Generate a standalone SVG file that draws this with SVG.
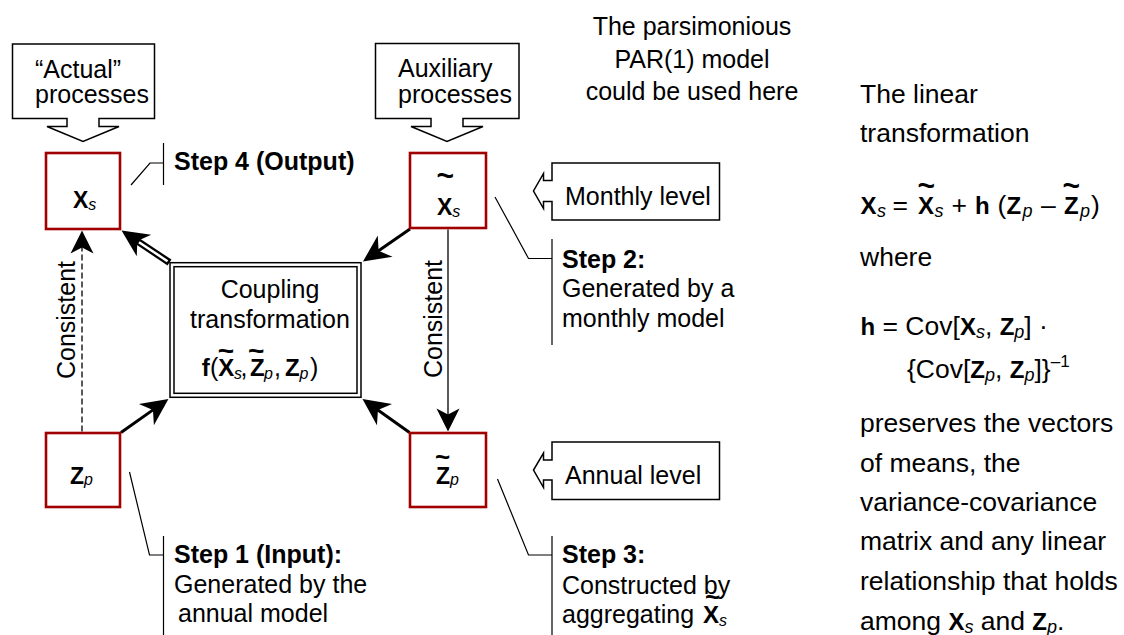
<svg xmlns="http://www.w3.org/2000/svg" width="1124" height="635" viewBox="0 0 1124 635">
  <defs>
    <style>
      text { font-family: "Liberation Sans", Arial, sans-serif; fill: #000; }
      .t { font-size: 25px; }
      .r { font-size: 26.5px; }
      .b { font-weight: bold; }
      .mb { font-weight: bold; font-size: 24px; }
      .nb { font-weight: bold; font-size: 23px; }
      .sub { font-style: italic; font-size: 18px; font-weight: normal; }
      .nsub { font-style: italic; font-size: 16px; font-weight: normal; }
      .sup { font-size: 17px; }
      .tl { text-anchor: middle; font-weight: bold; }
      .mid { text-anchor: middle; }
      .box { fill: #fff; stroke: #a00000; stroke-width: 2.6; }
      .frame { fill: #fff; stroke: #000; stroke-width: 1.5; }
      .frame2 { fill: none; stroke: #000; stroke-width: 1.5; }
      .call { fill: #fff; stroke: #000; stroke-width: 1.5; stroke-linejoin: miter; }
      .lead { fill: none; stroke: #000; stroke-width: 1.2; }
      .thick { stroke: #000; stroke-width: 3; fill: none; }
      .thin { stroke: #000; stroke-width: 1.3; fill: none; }
      .dash { stroke-dasharray: 6 3; }
      .dbl-out { stroke: #000; stroke-width: 7; fill: none; }
      .dbl-in { stroke: #fff; stroke-width: 2.5; fill: none; }
    </style>
    <marker id="headThick" viewBox="-13 -14 29 28" markerWidth="29" markerHeight="28" refX="0" refY="0" orient="auto" markerUnits="userSpaceOnUse">
      <path d="M15,0 L-12,-13 L-4,0 L-12,13 Z" fill="#000"/>
    </marker>
    <marker id="headThin" viewBox="-12 -12 25 24" markerWidth="25" markerHeight="24" refX="0" refY="0" orient="auto" markerUnits="userSpaceOnUse">
      <path d="M12,0 L-11,-11.5 L-5,0 L-11,11.5 Z" fill="#000"/>
    </marker>
  </defs>

  <rect x="0" y="0" width="1124" height="635" fill="#fff"/>

  <!-- callout boxes with block pointers -->
  <g id="actual-processes">
    <polygon class="call" points="12.5,44 154.5,44 154.5,118.5 99,118.5 99,126.5 119,126.5 83,141.5 47,126.5 67,126.5 67,118.5 12.5,118.5"/>
    <text class="t" x="35" y="78">“Actual”</text>
    <text class="t" x="35" y="103">processes</text>
  </g>
  <g id="auxiliary-processes">
    <polygon class="call" points="375.5,43.5 519,43.5 519,118.5 463,118.5 463,126.5 483,126.5 447,141.5 411,126.5 431,126.5 431,118.5 375.5,118.5"/>
    <text class="t" x="398" y="77">Auxiliary</text>
    <text class="t" x="398" y="103">processes</text>
  </g>
  <g id="monthly-level">
    <polygon class="call" points="552,163 719.5,163 719.5,220 552,220 552,201.5 543.5,201.5 543.5,208.5 533.5,191 543.5,173.5 543.5,180.5 552,180.5"/>
    <text class="t" x="565" y="205">Monthly level</text>
  </g>
  <g id="annual-level">
    <polygon class="call" points="552,442 719.5,442 719.5,499.5 552,499.5 552,480 543.5,480 543.5,487.5 533.5,470 543.5,453 543.5,460 552,460"/>
    <text class="t" x="565" y="483.5">Annual level</text>
  </g>

  <!-- connectors -->
  <g id="connectors">
    <line class="thick" x1="410" y1="229" x2="375.3" y2="253" marker-end="url(#headThick)"/>
    <line class="thick" x1="121" y1="432.5" x2="156.2" y2="407.6" marker-end="url(#headThick)"/>
    <line class="thick" x1="409.5" y1="432.5" x2="374.7" y2="407.7" marker-end="url(#headThick)"/>
    <line class="dbl-out" x1="169.5" y1="262.5" x2="134" y2="238.8" marker-end="url(#headThick)"/>
    <line class="dbl-in" x1="167.5" y1="261.2" x2="139" y2="242.2"/>
    <line class="thin" x1="448" y1="229.5" x2="448" y2="419.5" marker-end="url(#headThin)"/>
    <line class="thin dash" x1="82" y1="431.5" x2="82" y2="242.5" marker-end="url(#headThin)"/>
    <text class="t mid" transform="translate(74.5,320) rotate(-90)">Consistent</text>
    <text class="t mid" transform="translate(441.5,319) rotate(-90)">Consistent</text>
  </g>

  <!-- process nodes -->
  <g id="node-xs">
    <rect class="box" x="46" y="153" width="74" height="76"/>
    <text x="73" y="208"><tspan class="nb">X</tspan><tspan class="nsub" dy="2">s</tspan></text>
  </g>
  <g id="node-xs-tilde">
    <rect class="box" x="410" y="153" width="76" height="75"/>
    <text x="437" y="215"><tspan class="nb">X</tspan><tspan class="nsub" dy="2">s</tspan></text>
    <text class="tl" x="445.3" y="186" font-size="30">~</text>
  </g>
  <g id="node-zp">
    <rect class="box" x="46" y="433" width="74" height="74"/>
    <text x="70" y="484"><tspan class="nb">Z</tspan><tspan class="nsub" dy="1">p</tspan></text>
  </g>
  <g id="node-zp-tilde">
    <rect class="box" x="410" y="433" width="76" height="74"/>
    <text x="436" y="483.5"><tspan class="nb">Z</tspan><tspan class="nsub" dy="1">p</tspan></text>
    <text class="tl" x="442.5" y="465.5" font-size="26">~</text>
  </g>

  <!-- coupling transformation -->
  <g id="node-coupling">
    <rect class="frame" x="170" y="262.7" width="191" height="134.6"/>
    <rect class="frame2" x="174" y="266.7" width="183" height="126.6"/>
    <text class="t mid" x="270" y="298">Coupling</text>
    <text class="t mid" x="270" y="328">transformation</text>
    <text y="376"><tspan class="mb" x="201.7">f</tspan><tspan class="t" x="210">(</tspan><tspan class="mb" x="218.3">X</tspan><tspan class="nsub" x="234" dy="3">s</tspan><tspan class="t" x="240.5" dy="-3">,</tspan><tspan class="mb" x="250">Z</tspan><tspan class="nsub" x="264" dy="3">p</tspan><tspan class="t" x="274" dy="-3">,</tspan><tspan class="mb" x="285">Z</tspan><tspan class="nsub" x="299.5" dy="3">p</tspan><tspan class="t" x="310" dy="-3">)</tspan></text>
    <text class="tl" x="226" y="360" font-size="28">~</text>
    <text class="tl" x="256.3" y="360" font-size="28">~</text>
  </g>

  <!-- step annotations -->
  <g id="step-4">
    <polyline class="lead" points="131,185 150,163 163.5,163"/>
    <line class="lead" x1="163.5" y1="143" x2="163.5" y2="185"/>
    <text class="t b" x="174" y="170">Step 4 (Output)</text>
  </g>
  <g id="step-2">
    <polyline class="lead" points="495,197 528.5,258.5 552,258.5"/>
    <line class="lead" x1="552" y1="239" x2="552" y2="345"/>
    <text class="t b" x="562" y="268">Step 2:</text>
    <text class="t" x="562" y="297">Generated by a</text>
    <text class="t" x="562" y="327">monthly model</text>
  </g>
  <g id="step-1">
    <polyline class="lead" points="129.5,472 149.5,555 163.5,555"/>
    <line class="lead" x1="163.5" y1="536" x2="163.5" y2="635"/>
    <text class="t b" x="174" y="563">Step 1 (Input):</text>
    <text class="t" x="174" y="593">Generated by the</text>
    <text class="t" x="178" y="622">annual model</text>
  </g>
  <g id="step-3">
    <polyline class="lead" points="497.5,479 528.5,555 552,555"/>
    <line class="lead" x1="552" y1="536" x2="552" y2="635"/>
    <text class="t b" x="562" y="563">Step 3:</text>
    <text class="t" x="562" y="594">Constructed by</text>
    <text y="623"><tspan class="t" x="562">aggregating</tspan><tspan class="mb" x="703">X</tspan><tspan class="nsub" dy="3">s</tspan></text>
    <text class="tl" x="712.5" y="605.5" font-size="26">~</text>
  </g>

  <!-- PAR(1) note -->
  <g id="par1-note">
    <text class="t mid" x="692" y="35">The parsimonious</text>
    <text class="t mid" x="692" y="68">PAR(1) model</text>
    <text class="t mid" x="692" y="100">could be used here</text>
  </g>

  <!-- linear transformation explanation -->
  <g id="linear-note">
    <text class="r" x="860" y="103">The linear</text>
    <text class="r" x="860" y="142">transformation</text>
    <text y="214"><tspan class="mb" x="860.5">X</tspan><tspan class="sub" x="877" dy="3">s</tspan><tspan class="r" x="892.5" dy="-3">=</tspan><tspan class="mb" x="918">X</tspan><tspan class="sub" x="934.5" dy="3">s</tspan><tspan class="r" x="951.5" dy="-3">+</tspan><tspan class="mb" x="975">h</tspan><tspan class="r" x="997.5">(</tspan><tspan class="mb" x="1006.5">Z</tspan><tspan class="sub" x="1022.5" dy="3">p</tspan><tspan class="r" x="1041" dy="-3">–</tspan><tspan class="mb" x="1064">Z</tspan><tspan class="sub" x="1080" dy="3">p</tspan><tspan class="r" x="1091" dy="-3">)</tspan></text>
    <text class="tl" x="926.3" y="196" font-size="30">~</text>
    <text class="tl" x="1071.3" y="196" font-size="30">~</text>
    <text class="r" x="860" y="266">where</text>
    <text x="860.5" y="335"><tspan class="mb">h</tspan><tspan class="r"> = Cov[</tspan><tspan class="mb">X</tspan><tspan class="sub" dy="3">s</tspan><tspan class="r" dy="-3">, </tspan><tspan class="mb">Z</tspan><tspan class="sub" dy="3">p</tspan><tspan class="r" dy="-3">] ·</tspan></text>
    <text x="907" y="378"><tspan class="r">{Cov[</tspan><tspan class="mb">Z</tspan><tspan class="sub" dy="3">p</tspan><tspan class="r" dy="-3">, </tspan><tspan class="mb">Z</tspan><tspan class="sub" dy="3">p</tspan><tspan class="r" dy="-3">]}</tspan><tspan class="sup" dy="-11">–1</tspan></text>
    <text class="r" x="860" y="432">preserves the vectors</text>
    <text class="r" x="860" y="472">of means, the</text>
    <text class="r" x="860" y="511">variance-covariance</text>
    <text class="r" x="860" y="550">matrix and any linear</text>
    <text class="r" x="860" y="590">relationship that holds</text>
    <text x="860" y="630"><tspan class="r">among </tspan><tspan class="mb">X</tspan><tspan class="sub" dy="3">s</tspan><tspan class="r" dy="-3"> and </tspan><tspan class="mb">Z</tspan><tspan class="sub" dy="3">p</tspan><tspan class="r" dy="-3">.</tspan></text>
  </g>
</svg>
